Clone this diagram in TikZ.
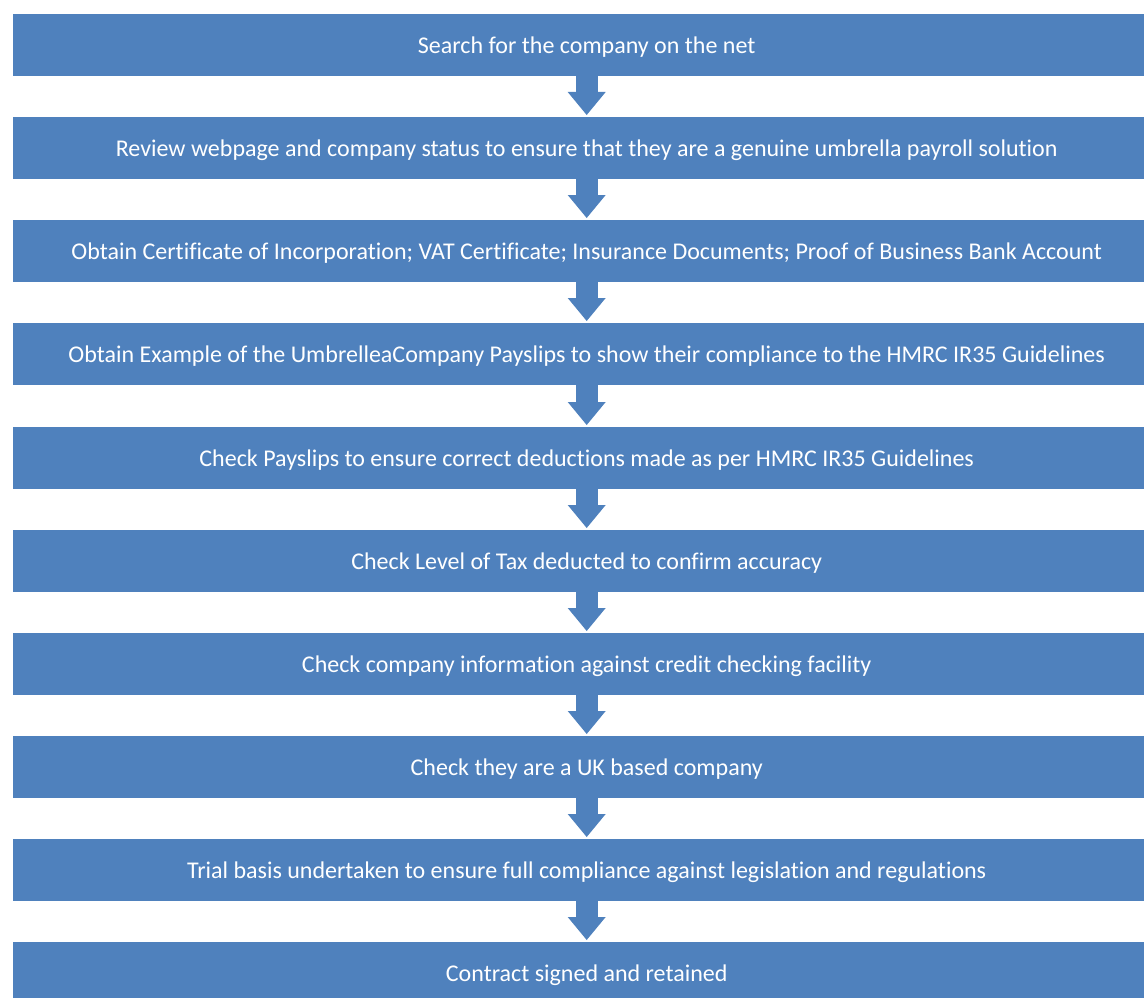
\documentclass[tikz,border=0pt]{standalone}
\usepackage{fontspec}
\setmainfont{Carlito}[Ligatures=NoCommon]
\usetikzlibrary{arrows.meta}
\definecolor{boxblue}{HTML}{4F81BD}
\tikzset{
  stepbox/.style={fill=boxblue, draw=none, minimum width=1147pt, minimum height=62pt,
    inner sep=0pt, anchor=north west, text=white, text height=16pt, text depth=0pt,
    font=\fontsize{24}{28}\selectfont},
  flowarrow/.style={draw=boxblue, line width=22pt,
    -{Triangle[width=38pt,length=23pt,line width=0pt]}, shorten >=2pt}
}
\begin{document}
\begin{tikzpicture}[x=1pt,y=-1pt]
\useasboundingbox (0,0) rectangle (1144,998);
\node[stepbox] (b1) at (13,14) {Search for the company on the net};
\node[stepbox] (b2) at (13,117) {Review webpage and company status to ensure that they are a genuine umbrella payroll solution};
\node[stepbox] (b3) at (13,220) {Obtain Certificate of Incorporation; VAT Certificate; Insurance Documents; Proof of Business Bank Account};
\node[stepbox] (b4) at (13,323) {Obtain Example of the UmbrelleaCompany Payslips to show their compliance to the HMRC IR35 Guidelines};
\node[stepbox] (b5) at (13,427) {Check Payslips to ensure correct deductions made as per HMRC IR35 Guidelines};
\node[stepbox] (b6) at (13,530) {Check Level of Tax deducted to confirm accuracy};
\node[stepbox] (b7) at (13,633) {Check company information against credit checking facility};
\node[stepbox] (b8) at (13,736) {Check they are a UK based company};
\node[stepbox] (b9) at (13,839) {Trial basis undertaken to ensure full compliance against legislation and regulations};
\node[stepbox] (b10) at (13,942) {Contract signed and retained};
\foreach \a/\b in {b1/b2,b2/b3,b3/b4,b4/b5,b5/b6,b6/b7,b7/b8,b8/b9,b9/b10}
  \draw[flowarrow] (\a.south) -- (\b.north);
\end{tikzpicture}
\end{document}
